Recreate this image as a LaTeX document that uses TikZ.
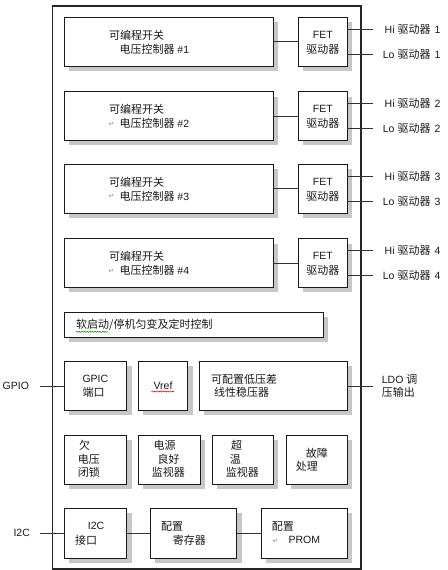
\documentclass[tikz,border=0pt]{standalone}
\usepackage{fontspec}
\setmainfont{Liberation Sans}
\newfontfamily\cjk{Noto Sans CJK SC}
\newfontfamily\symf{DejaVu Sans}
\usetikzlibrary{shadows,decorations.pathmorphing}
\newcommand\zh[1]{{\cjk\fontsize{11pt}{12pt}\selectfont #1}}
\newcommand\retmark{{\symf\fontsize{7pt}{8pt}\selectfont\textcolor{black!45}{↵}}}
\begin{document}
\begin{tikzpicture}[x=1pt, y=-1pt,
  box/.style={draw=black!90, line width=0.8pt, fill=white, inner sep=0pt, outer sep=0pt, anchor=north west,
    general shadow={fill=black!22, shadow xshift=5pt, shadow yshift=-5pt}},
  txt/.style={inner sep=0pt, anchor=west, font=\fontsize{10.5pt}{12pt}\selectfont, text=black!90},
  conn/.style={draw=black!80, line width=0.8pt},
  wavy/.style={decorate, decoration={snake, amplitude=0.6pt, segment length=2.6pt}, line width=0.5pt}]
\useasboundingbox (0,0) rectangle (447,570);
\node[draw=black!85, line width=1.6pt, inner sep=0pt, anchor=north west,
  minimum width=308.3pt, minimum height=563pt] (frame) at (51.7,5) {};

% four controller rows
\foreach \r/\T in {1/17.3,2/91.7,3/164.3,4/238.7}{
  \node[box, minimum width=209pt, minimum height=48.7pt] (ctrl\r) at (64.3,\T) {};
  \node[box, minimum width=49pt, minimum height=48.7pt] (fet\r) at (298.3,\T) {};
  \draw[conn] (ctrl\r) -- (fet\r);
  \node[txt] (cta\r) at (109,\T+17.7) {\zh{可编程开关}};
  \node[txt] (ctb\r) at (119.3,\T+31.7) {\zh{电压控制器} \#\r};
  \node[txt, anchor=center] (feta\r) at ([yshift=6.9pt]fet\r.center) {FET};
  \node[txt, anchor=center] (fetb\r) at ([yshift=-7.3pt]fet\r.center) {\zh{驱动器}};
  \node[txt] (hi\r) at (384.5,\T+12) {Hi \zh{驱动器}\hspace{4pt}\r};
  \node[txt] (lo\r) at (382.7,\T+36.7) {Lo \zh{驱动器}\hspace{4pt}\r};
  \draw[conn] (fet\r.east |- hi\r.west) -- ([xshift=-11.8pt]hi\r.west);
  \draw[conn] (fet\r.east |- lo\r.west) -- ([xshift=-10pt]lo\r.west);
}
\foreach \r/\T in {2/91.7,3/164.3,4/238.7}{
  \node[inner sep=0pt, anchor=west] (ret\r) at (108.5,\T+32.5) {\retmark};
}

% soft start
\node[box, minimum width=259pt, minimum height=24.7pt] (soft) at (64.3,312.3) {};
\node[txt] (softt) at (76,325) {\zh{软启动/停机匀变及定时控制}};
\draw[wavy, draw=green!55!black] (76,331.8) -- (108,331.8);

% GPIO row
\node[box, minimum width=62.4pt, minimum height=49pt] (gpic) at (64.3,361.3) {};
\node[box, minimum width=49.4pt, minimum height=49pt] (vref) at (138.3,361.3) {};
\node[box, minimum width=148pt, minimum height=49pt] (ldo) at (199.3,361.3) {};
\node[txt] (gpica) at (82.3,379.3) {GPIC};
\node[txt] (gpicb) at (82.3,392.3) {\zh{端口}};
\node[txt, anchor=center] (vreft) at (vref.center) {Vref};
\draw[wavy, draw=red!80!black] (151.5,391.5) -- (174,391.5);
\node[txt] (ldoa) at (211,379.3) {\zh{可配置低压差}};
\node[txt] (ldob) at (214,392.3) {\zh{线性稳压器}};
\node[txt] (gpio) at (2.5,386.3) {GPIO};
\coordinate (gpioend) at (40,386.3);
\draw[conn] (gpioend) -- (gpioend -| gpic.west);
\node[txt] (ldoouta) at (381.7,379.3) {LDO \zh{调}};
\node[txt] (ldooutb) at (381.7,392.3) {\zh{压输出}};
\coordinate (ldoend) at (372.7,386.3);
\draw[conn] (ldoend -| ldo.east) -- (ldoend);

% monitor row
\node[box, minimum width=62.4pt, minimum height=49.3pt] (uvlo) at (64.3,435) {};
\node[box, minimum width=61.7pt, minimum height=49.3pt] (pg) at (138.3,435) {};
\node[box, minimum width=61pt, minimum height=49.3pt] (ot) at (212.3,435) {};
\node[box, minimum width=61pt, minimum height=49.3pt] (fault) at (286.3,435) {};
\node[txt] (uvloa) at (79,445.7) {\zh{欠}};
\node[txt] (uvlob) at (77.7,459.2) {\zh{电压}};
\node[txt] (uvloc) at (77.7,472.5) {\zh{闭锁}};
\node[txt] (pga) at (153.3,445.7) {\zh{电源}};
\node[txt] (pgb) at (157.3,459.2) {\zh{良好}};
\node[txt] (pgc) at (151.7,472.5) {\zh{监视器}};
\node[txt] (ota) at (231,445.7) {\zh{超}};
\node[txt] (otb) at (229.7,459.2) {\zh{温}};
\node[txt] (otc) at (225.7,472.5) {\zh{监视器}};
\node[txt] (faulta) at (305.7,453.3) {\zh{故障}};
\node[txt] (faultb) at (295.7,465.9) {\zh{处理}};

% I2C row
\node[box, minimum width=62.4pt, minimum height=50pt] (i2c) at (64.3,508.3) {};
\node[box, minimum width=86.4pt, minimum height=50pt] (reg) at (150.3,508.3) {};
\node[box, minimum width=86pt, minimum height=50pt] (prom) at (261.3,508.3) {};
\draw[conn] (i2c) -- (reg);
\draw[conn] (reg) -- (prom);
\node[txt] (i2ca) at (87.7,526) {I2C};
\node[txt] (i2cb) at (75,540) {\zh{接口}};
\node[txt] (rega) at (161,526) {\zh{配置}};
\node[txt] (regb) at (172.7,540) {\zh{寄存器}};
\node[txt] (proma) at (271.7,526) {\zh{配置}};
\node[inner sep=0pt, anchor=west] (promr) at (272.5,541.5) {\retmark};
\node[txt] (promb) at (288.3,540) {PROM};
\node[txt] (i2cl) at (13.3,533.3) {I2C};
\coordinate (i2cend) at (40,533.3);
\draw[conn] (i2cend) -- (i2cend -| i2c.west);
\end{tikzpicture}
\end{document}
